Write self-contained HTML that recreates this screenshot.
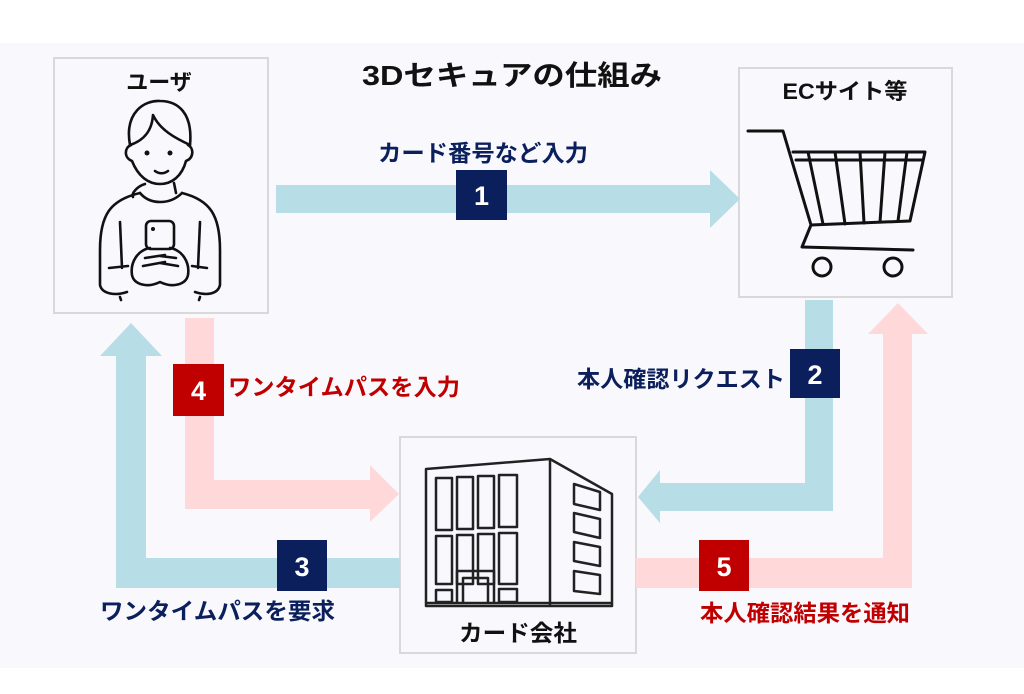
<!DOCTYPE html>
<html><head><meta charset="utf-8"><style>
html,body{margin:0;padding:0;background:#fff;width:1024px;height:694px;overflow:hidden}
svg{display:block}
text{font-family:"Liberation Sans","Noto Sans CJK JP",sans-serif}
</style></head><body>
<svg width="1024" height="694" viewBox="0 0 1024 694">
<rect x="0" y="43" width="1024" height="625" fill="#f8f8fd"/>
<!-- boxes -->
<rect x="54" y="58" width="214" height="255" fill="#f8f8fd" stroke="#d9d9d9" stroke-width="2"/>
<rect x="739" y="68" width="213" height="229" fill="#f8f8fd" stroke="#d9d9d9" stroke-width="2"/>
<rect x="400" y="437" width="236" height="216" fill="#f8f8fd" stroke="#d9d9d9" stroke-width="2"/>
<text x="512" y="85" font-size="28" font-weight="bold" text-anchor="middle" fill="#111" textLength="300" lengthAdjust="spacingAndGlyphs">3Dセキュアの仕組み</text>
<text x="159" y="90" font-size="22" font-weight="bold" text-anchor="middle" fill="#111">ユーザ</text>
<text x="845" y="99" font-size="22" font-weight="bold" text-anchor="middle" fill="#111" textLength="125" lengthAdjust="spacingAndGlyphs">ECサイト等</text>
<text x="518" y="641" font-size="23" font-weight="bold" text-anchor="middle" fill="#111" textLength="118" lengthAdjust="spacingAndGlyphs">カード会社</text>
<!-- arrow 1 -->
<polygon points="276,185 710,185 710,170 740,199 710,228 710,213 276,213" fill="#b7dde6"/>
<!-- arrow 2 -->
<polygon points="805,300 833,300 833,511 660,511 660,523 638,497 660,470 660,483 805,483" fill="#b7dde6"/>
<!-- arrow 3 -->
<polygon points="400,558 400,588 116,588 116,356 100,356 131,323 162,356 146,356 146,558" fill="#b7dde6"/>
<!-- arrow 4 -->
<polygon points="185,318 214,318 214,480 370,480 370,465 399,494 370,522 370,509 185,509" fill="#ffd9d9"/>
<!-- arrow 5 -->
<polygon points="636,558 883,558 883,334 868,334 898,303 928,334 912,334 912,588 636,588" fill="#ffd9d9"/>
<!-- badges -->
<rect x="456" y="170" width="51" height="50" fill="#0a1f5c"/><text x="481.5" y="205" font-size="27" font-weight="bold" fill="#fff" text-anchor="middle">1</text>
<rect x="790" y="349" width="50" height="49" fill="#0a1f5c"/><text x="815" y="384" font-size="27" font-weight="bold" fill="#fff" text-anchor="middle">2</text>
<rect x="277" y="540" width="50" height="51" fill="#0a1f5c"/><text x="302" y="576" font-size="27" font-weight="bold" fill="#fff" text-anchor="middle">3</text>
<rect x="173" y="364" width="51" height="52" fill="#c00000"/><text x="198.5" y="400" font-size="27" font-weight="bold" fill="#fff" text-anchor="middle">4</text>
<rect x="699" y="540" width="50" height="51" fill="#c00000"/><text x="724" y="576" font-size="27" font-weight="bold" fill="#fff" text-anchor="middle">5</text>
<!-- labels -->
<text x="378" y="161" font-size="23" font-weight="bold" fill="#0a1f5c" textLength="210" lengthAdjust="spacingAndGlyphs">カード番号など入力</text>
<text x="577" y="387" font-size="23" font-weight="bold" fill="#0a1f5c" textLength="208" lengthAdjust="spacingAndGlyphs">本人確認リクエスト</text>
<text x="100" y="619" font-size="23" font-weight="bold" fill="#0a1f5c" textLength="235" lengthAdjust="spacingAndGlyphs">ワンタイムパスを要求</text>
<text x="228" y="395" font-size="23" font-weight="bold" fill="#c00000" textLength="232" lengthAdjust="spacingAndGlyphs">ワンタイムパスを入力</text>
<text x="700" y="621" font-size="23" font-weight="bold" fill="#c00000" textLength="210" lengthAdjust="spacingAndGlyphs">本人確認結果を通知</text>
<!-- cart -->
<g fill="none" stroke="#111" stroke-width="3" stroke-linejoin="round" stroke-linecap="round">
<path d="M748,131 L783,131 L811,225 L802,247 L913,250"/>
<path d="M793,152 L925,152 L910,221 L811,225"/>
<path d="M796,160 L923,160"/>
<path d="M808,152 L823,224 M835,152 L845,224 M860,152 L864,223 M885,152 L880,222 M907,152 L898,221"/>
<circle cx="822" cy="267" r="9"/><circle cx="893" cy="267" r="9"/>
</g>
<!-- person -->
<g fill="none" stroke="#111" stroke-width="2.6" stroke-linecap="round" stroke-linejoin="round">
<path d="M130,145 C124,112 145,100 160,101 C178,101 193,113 190,145"/>
<path d="M130,145 C145,140 152,130 153,115 C160,130 175,138 190,145"/>
<path d="M131,145 C124,148 124,158 132,161 C138,176 148,184 160,184 C172,184 182,176 186,161 C194,158 194,148 188,145"/>
<path d="M155,171 C159,174 164,174 168,171"/>
<path d="M145,184 C138,186 131,193 133,197 M174,183 L176,193"/>
<path d="M140,193 C150,205 170,205 182,193"/>
<path d="M140,193 C110,200 100,215 100,250 L100,285 C102,294 115,296 127,292"/>
<path d="M182,193 C210,200 220,215 220,250 L220,285 C218,294 207,296 195,292"/>
<path d="M120,222 L122,268 M200,222 L198,268 M109,268 L128,266 M192,266 L207,268"/>
<rect x="146" y="221" width="28" height="28" rx="5"/>
<path d="M150,248 C138,250 130,262 132,275 C134,285 148,288 160,282 C172,288 186,285 188,275 C190,262 182,250 170,248"/>
<path d="M145,258 L165,255 M143,266 L165,262 M176,258 L160,256 M178,266 L160,263"/>
<path d="M120,297 L121,300 M200,297 L199,300"/>
</g>
<circle cx="153" cy="229" r="2" fill="#111"/>
<circle cx="147" cy="153" r="2.5" fill="#111"/><circle cx="170" cy="153" r="2.5" fill="#111"/>
<!-- building -->
<g fill="none" stroke="#222" stroke-width="2.5" stroke-linejoin="round">
<path d="M426,469 L550,459 L612,494 L612,606 L426,606 Z"/>
<path d="M550,459 L550,606"/>
<path d="M426,603 L612,603"/>
<rect x="436" y="478" width="16" height="52"/><rect x="457" y="477" width="16" height="52"/><rect x="478" y="476" width="16" height="52"/><rect x="499" y="475" width="18" height="52"/>
<rect x="436" y="536" width="16" height="48"/><rect x="457" y="535" width="16" height="49"/><rect x="478" y="534" width="16" height="50"/><rect x="499" y="533" width="18" height="51"/>
<rect x="436" y="590" width="16" height="12"/><rect x="499" y="589" width="18" height="13"/>
<path d="M457,602 L457,571 L494,571 L494,602 M463,602 L463,578 L488,578 L488,602"/>
<path d="M574,484 L600,492 L600,510 L574,504 Z M574,513 L600,519 L600,538 L574,532 Z M574,542 L600,547 L600,566 L574,561 Z M574,571 L600,575 L600,594 L574,591 Z"/>
</g>
</svg>
</body></html>
